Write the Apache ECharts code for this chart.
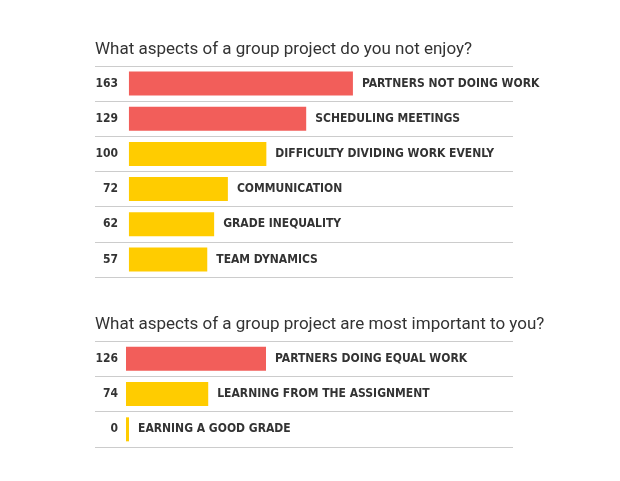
<!DOCTYPE html><html><head><meta charset="utf-8">
<script src="https://cdn.jsdelivr.net/npm/echarts@6/dist/echarts.min.js"></script>
<style>html,body{margin:0;background:#fff}#c{width:620px;height:481px}</style></head><body><div id="c"></div>
<script>
const title1 = "What aspects of a group project do you not enjoy?";
const cats1 = ["PARTNERS NOT DOING WORK","SCHEDULING MEETINGS","DIFFICULTY DIVIDING WORK EVENLY","COMMUNICATION","GRADE INEQUALITY","TEAM DYNAMICS"];
const vals1 = [163,129,100,72,62,57];
const cols1 = ["#F25E5A","#F25E5A","#FFCC00","#FFCC00","#FFCC00","#FFCC00"];
const title2 = "What aspects of a group project are most important to you?";
const cats2 = ["PARTNERS DOING EQUAL WORK","LEARNING FROM THE ASSIGNMENT","EARNING A GOOD GRADE"];
const vals2 = [126,74,0];
const cols2 = ["#F25E5A","#FFCC00","#FFCC00"];
const F = "'DejaVu Sans Condensed','Liberation Sans Narrow',sans-serif";
const TF = "Roboto,'Noto Sans',sans-serif";
function yAx(i,vals){return {type:'category',gridIndex:i,inverse:true,data:vals.map(String),
  axisLine:{show:false},axisTick:{show:false},
  splitLine:{show:true,interval:0,lineStyle:{color:'#cccccc',width:1}},
  axisLabel:{inside:false,margin:-23,align:'right',color:'#333',fontFamily:F,fontWeight:'bold',fontSize:12}};}
function xAx(i,min,max){return {type:'value',gridIndex:i,min:min,max:max,show:false,splitLine:{show:false}};}
function ser(i,cats,vals,cols){return {type:'bar',xAxisIndex:i,yAxisIndex:i,barWidth:24,barMinHeight:3,
  data:vals.map((v,k)=>({value:v,name:cats[k],itemStyle:{color:cols[k]}})),
  label:{show:true,position:'right',distance:9,formatter:p=>p.name,color:'#333',fontFamily:F,fontWeight:'bold',fontSize:12}};}
const chart = echarts.init(document.getElementById('c'));
chart.setOption({
  animation:false,
  title:[{text:title1,left:90,top:36,textStyle:{fontFamily:TF,fontWeight:'normal',fontSize:17,color:'#333'}},
         {text:title2,left:90,top:311,textStyle:{fontFamily:TF,fontWeight:'normal',fontSize:17,color:'#333'}}],
  grid:[{left:95,width:418,top:66,height:211},{left:95,width:418,top:341,height:106}],
  xAxis:[xAx(0,-24.7,279.5),xAx(1,-27.9,348.3)],
  yAxis:[yAx(0,vals1),yAx(1,vals2)],
  series:[ser(0,cats1,vals1,cols1),ser(1,cats2,vals2,cols2)]
});
</script></body></html>
